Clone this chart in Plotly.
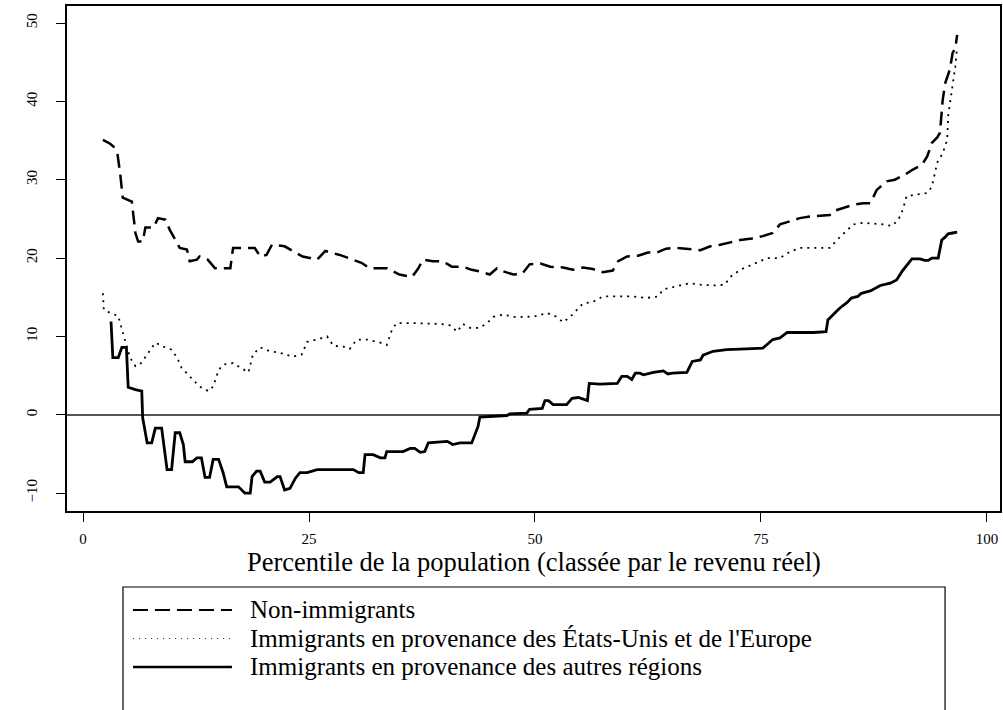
import plotly.graph_objects as go

# Non-immigrants (dashed)
non_imm_x = [2.2, 3.0, 3.4, 3.8, 4.1, 4.4, 5.4, 5.8, 6.1, 6.6, 6.9, 7.8, 8.3, 9.1, 9.6, 10.2, 10.7, 11.5,
             11.8, 12.6, 12.9, 13.8, 14.6, 16.3, 16.6, 18.1, 19.0, 19.6, 20.3, 20.9, 22.3, 23.2, 24.3, 25.9,
             26.8, 28.4, 29.7, 30.8, 31.7, 33.6, 35.0, 36.4, 37.1, 37.6, 38.7, 39.8, 40.8, 42.0, 43.0, 43.9,
             45.0, 45.8, 46.5, 47.6, 48.6, 49.4, 50.6, 51.7, 53.1, 54.2, 55.3, 56.4, 57.5, 58.6, 59.2, 60.2,
             61.4, 62.5, 63.5, 64.5, 65.7, 67.1, 68.3, 69.4, 70.5, 71.6, 72.7, 74.0, 75.2, 76.3, 77.1, 78.2,
             79.3, 80.4, 81.7, 82.6, 83.0, 84.0, 85.2, 86.3, 87.1, 87.8, 88.9, 89.8, 91.0, 91.8, 92.8, 93.4,
             93.9, 94.5, 94.8, 95.1, 95.4, 95.9, 96.2, 96.5, 96.7]
non_imm_y = [35.1, 34.6, 34.2, 33.4, 30.9, 27.7, 27.2, 23.2, 22.1, 22.1, 23.9, 23.9, 25.1, 24.9, 23.6, 22.3,
             21.3, 21.1, 19.6, 19.8, 20.2, 19.8, 18.7, 18.7, 21.3, 21.3, 21.3, 20.2, 20.4, 21.7, 21.5, 20.9,
             20.2, 19.8, 20.9, 20.4, 19.9, 19.4, 18.7, 18.7, 17.9, 17.6, 18.7, 19.8, 19.6, 19.6, 18.9, 18.9,
             18.5, 18.3, 17.9, 18.7, 18.3, 17.9, 18.0, 19.2, 19.3, 18.9, 18.8, 18.5, 18.8, 18.6, 18.2, 18.4,
             19.6, 20.2, 20.3, 20.7, 20.7, 21.2, 21.3, 21.1, 21.0, 21.5, 21.7, 22.0, 22.3, 22.5, 22.8, 23.2,
             24.3, 24.7, 25.1, 25.3, 25.4, 25.5, 26.0, 26.4, 26.8, 27.0, 27.0, 28.7, 29.8, 30.0, 30.7, 31.3,
             31.9, 33.0, 34.7, 35.4, 36.0, 40.2, 42.4, 44.1, 46.2, 46.8, 48.5]

# Immigrants from the US and Europe (dotted)
us_eu_x = [2.2, 2.3, 3.0, 3.9, 4.3, 4.8, 5.2, 5.8, 6.3, 7.1, 8.0, 8.9, 9.8, 10.4, 10.9, 11.8, 12.9, 13.9,
           14.4, 15.0, 15.5, 16.6, 17.4, 18.3, 18.8, 19.6, 20.7, 21.8, 23.2, 24.2, 24.8, 25.9, 27.0, 27.7,
           28.8, 29.5, 30.3, 31.4, 32.9, 33.6, 34.2, 34.7, 36.2, 38.0, 39.5, 40.6, 41.4, 42.0, 42.8, 43.9,
           44.7, 45.4, 46.5, 47.6, 49.1, 50.2, 51.3, 52.4, 53.1, 53.9, 54.6, 55.3, 56.4, 57.5, 59.1, 60.8,
           62.3, 63.6, 64.2, 65.7, 67.1, 68.3, 69.7, 71.0, 71.6, 72.7, 74.1, 75.7, 77.1, 78.2, 79.3, 80.8,
           82.6, 83.4, 84.5, 85.2, 86.3, 87.4, 88.5, 89.5, 90.2, 90.7, 91.1, 92.2, 93.4, 93.9, 94.5, 95.1,
           95.6, 95.7, 96.1, 96.5, 96.7]
us_eu_y = [15.5, 13.4, 13.0, 12.6, 10.9, 8.7, 7.3, 6.2, 6.4, 7.7, 9.2, 8.7, 8.3, 7.3, 6.0, 4.9, 3.6, 3.0,
           3.6, 5.7, 6.4, 6.6, 6.0, 5.4, 7.7, 8.6, 8.1, 7.9, 7.4, 7.7, 9.3, 9.6, 10.0, 8.8, 8.7, 8.4, 9.6,
           9.6, 9.2, 8.9, 10.9, 11.7, 11.7, 11.6, 11.6, 11.4, 10.6, 11.6, 11.1, 11.1, 11.7, 12.5, 12.8,
           12.5, 12.5, 12.6, 13.0, 12.5, 11.8, 12.5, 13.4, 14.2, 14.4, 15.1, 15.1, 15.1, 14.9, 15.1, 16.0,
           16.4, 16.8, 16.6, 16.5, 16.6, 17.6, 18.5, 19.2, 20.0, 20.0, 20.8, 21.3, 21.3, 21.3, 22.3, 23.6,
           24.3, 24.5, 24.4, 24.3, 24.1, 24.9, 26.2, 27.9, 28.1, 28.3, 29.1, 32.2, 33.4, 35.1, 38.1, 41.1,
           44.5, 47.0]

# Immigrants from other regions (solid)
other_x = [3.1, 3.3, 3.9, 4.3, 4.8, 5.0, 5.8, 6.5, 6.6, 7.1, 7.6, 8.0, 8.7, 9.3, 9.8, 10.2, 10.7, 11.1,
           11.3, 12.1, 12.6, 13.1, 13.5, 14.0, 14.4, 15.0, 15.5, 15.9, 17.2, 17.9, 18.5, 18.7, 19.2, 19.6,
           20.1, 20.7, 21.5, 21.8, 22.3, 22.9, 23.5, 24.0, 24.8, 25.9, 27.7, 29.9, 30.5, 31.0, 31.2, 32.1,
           32.9, 33.4, 33.6, 35.4, 36.2, 36.7, 37.3, 37.8, 38.2, 39.5, 40.3, 40.9, 41.7, 43.0, 43.4, 43.7,
           43.9, 45.4, 46.9, 47.2, 49.1, 49.4, 50.8, 51.1, 51.5, 52.0, 53.5, 54.1, 54.8, 55.8, 56.0, 57.2,
           59.1, 59.6, 60.2, 60.7, 61.1, 61.6, 62.0, 63.1, 64.2, 64.7, 65.2, 66.8, 67.4, 68.3, 68.6, 69.7,
           71.2, 73.4, 75.2, 75.8, 76.3, 77.1, 77.9, 79.3, 80.8, 82.2, 82.4, 83.0, 83.7, 84.5, 85.0, 85.7,
           86.1, 87.1, 87.8, 88.2, 89.3, 90.0, 90.6, 91.1, 91.7, 92.6, 93.1, 93.5, 93.9, 94.6, 95.0, 95.4,
           95.7, 96.2, 96.7]
other_y = [11.9, 7.3, 7.3, 8.6, 8.6, 3.5, 3.2, 3.0, -0.4, -3.6, -3.6, -1.7, -1.7, -7.0, -7.0, -2.3, -2.3,
           -3.8, -6.0, -6.0, -5.5, -5.5, -8.0, -8.0, -5.7, -5.7, -7.4, -9.2, -9.2, -10.0, -10.0, -7.9, -7.2,
           -7.2, -8.6, -8.6, -7.9, -7.9, -9.6, -9.4, -8.1, -7.4, -7.4, -7.0, -7.0, -7.0, -7.4, -7.4, -5.1,
           -5.1, -5.5, -5.5, -4.7, -4.7, -4.3, -4.3, -4.8, -4.7, -3.6, -3.5, -3.4, -3.8, -3.6, -3.6, -2.3,
           -1.5, -0.3, -0.2, -0.1, 0.1, 0.2, 0.7, 0.8, 1.8, 1.8, 1.3, 1.3, 2.1, 2.2, 1.8, 4.0, 3.9, 4.0,
           4.9, 4.9, 4.5, 5.3, 5.3, 5.1, 5.4, 5.6, 5.2, 5.3, 5.4, 6.8, 7.0, 7.6, 8.1, 8.3, 8.4, 8.5, 9.1,
           9.6, 9.8, 10.5, 10.5, 10.5, 10.6, 12.1, 12.8, 13.6, 14.3, 14.9, 15.1, 15.5, 15.8, 16.2, 16.5,
           16.8, 17.2, 18.3, 19.1, 19.9, 19.9, 19.7, 19.7, 20.0, 20.0, 22.3, 22.7, 23.1, 23.2, 23.3]

x_ticks = [0, 25, 50, 75, 100]
y_ticks = [-10, 0, 10, 20, 30, 40, 50]

legend_labels = ["Non-immigrants",
                 "Immigrants en provenance des États-Unis et de l'Europe",
                 "Immigrants en provenance des autres régions"]

FONT = "Liberation Serif, serif"

fig = go.Figure()

fig.add_trace(go.Scatter(x=non_imm_x, y=non_imm_y, mode="lines", name=legend_labels[0],
                         line=dict(color="black", width=2.5, dash="14px,7px")))
fig.add_trace(go.Scatter(x=us_eu_x, y=us_eu_y, mode="lines", name=legend_labels[1],
                         line=dict(color="black", width=1.8, dash="2px,5px")))
fig.add_trace(go.Scatter(x=other_x, y=other_y, mode="lines", name=legend_labels[2],
                         line=dict(color="black", width=2.8)))

fig.update_layout(
    width=1003, height=710,
    margin=dict(l=67, r=3, t=6, b=199),
    plot_bgcolor="white", paper_bgcolor="white",
    showlegend=False,
    font=dict(family=FONT, color="black", size=15),
)

fig.update_xaxes(range=[-1.77, 101.44], tickvals=x_ticks, ticks="outside", ticklen=9,
                 tickwidth=1.2, tickcolor="black", showline=True, mirror=True, linecolor="black",
                 linewidth=1.5, showgrid=False, zeroline=False, ticklabelstandoff=4,
                 automargin=False, tickfont=dict(size=15, family=FONT))
fig.update_yaxes(range=[-12.29, 52.18], tickvals=y_ticks, ticks="outside", ticklen=9,
                 tickwidth=1.2, tickcolor="black", showline=True, mirror=True, linecolor="black",
                 linewidth=1.5, showgrid=False, zeroline=True, zerolinecolor="#555555",
                 zerolinewidth=1.5, tickangle=-90, ticklabelstandoff=13,
                 automargin=False, tickfont=dict(size=15, family=FONT))

# axis title
fig.add_annotation(text="Percentile de la population (classée par le revenu réel)",
                   xref="paper", yref="paper", x=0.5, y=-0.10, xanchor="center", yanchor="middle",
                   showarrow=False, font=dict(size=26.5, family=FONT, color="black"))

# legend box drawn below the plot, R style
fig.add_shape(type="rect", xref="paper", yref="paper", x0=0.060, x1=0.9411, y0=-0.1505, y1=-0.44,
              line=dict(color="black", width=1.2), fillcolor="rgba(0,0,0,0)")
legend_rows = [-0.196, -0.2525, -0.3089]
legend_styles = [dict(color="black", width=2.2, dash="15px,7px"),
                 dict(color="#333333", width=1.1, dash="1px,5px"),
                 dict(color="black", width=2.4)]
for label, ypos, style in zip(legend_labels, legend_rows, legend_styles):
    fig.add_shape(type="line", xref="paper", yref="paper", x0=0.0707, x1=0.1768, y0=ypos, y1=ypos,
                  line=style)
    fig.add_annotation(text=label, xref="paper", yref="paper", x=0.1955, y=ypos,
                       xanchor="left", yanchor="middle", showarrow=False, borderpad=0,
                       font=dict(size=25, family=FONT, color="black"))

# page body has a default 8px margin; drop it so the figure sits at the window origin
fig.write_html("out.html", config={"displayModeBar": False},
               post_script="document.body.style.margin = '0';")
